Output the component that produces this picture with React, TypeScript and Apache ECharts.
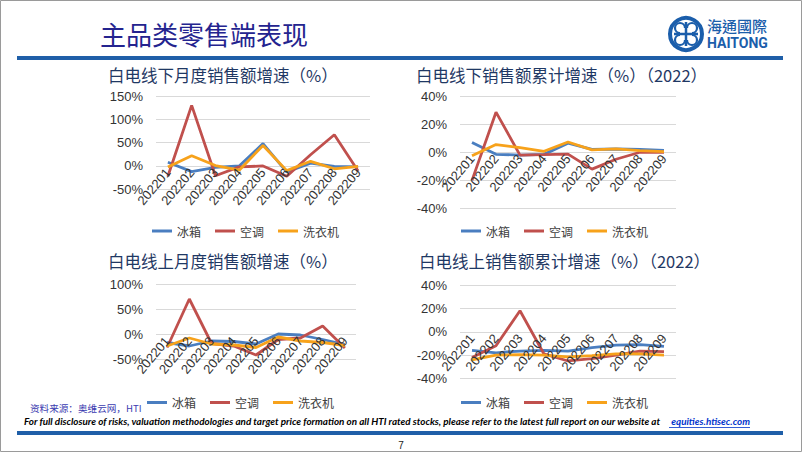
import React, { useEffect, useRef } from 'react';
import * as echarts from 'echarts';

const categories = ['202201', '202202', '202203', '202204', '202205', '202206', '202207', '202208', '202209'];
const seriesNames = ['冰箱', '空调', '洗衣机'];

// 白电线下月度销售额增速（%）
const offMonthFridge = [8, -12, -3, 0, 48, -13, 6, -1, -2];
const offMonthAC = [-22, 130, -21, -2, 0, -22, 24, 67, -11];
const offMonthWasher = [-2, 22, 1, -9, 44, -10, 10, -6, -1];

// 白电线下销售额累计增速（%）（2022）
const offCumFridge = [7, -1.5, -2, -1.5, 6.5, 2, 2.3, 2, 1.4];
const offCumAC = [-20, 28.5, -2, -1.7, -1.3, -12, -5, 0, 0];
const offCumWasher = [-2.5, 5.5, 3.3, 0.7, 7.3, 1.7, 2.4, 1.2, 0.5];

// 白电线上月度销售额增速（%）
const onMonthFridge = [-16, -23, -13, -14, -19, 1, -1, -10, -20];
const onMonthAC = [-26, 71, -18, -23, -41, -10, -7, 17, -27];
const onMonthWasher = [-23, -7, -19, -21, -26, -5, -13, -16, -22];

// 白电线上销售额累计增速（%）（2022）
const onCumFridge = [-16, -18, -16.5, -16, -16.5, -13.5, -11.5, -11, -12.5];
const onCumAC = [-22, -12, 18, -19, -25, -23, -20, -16.5, -17];
const onCumWasher = [-24, -20, -19.5, -20, -21.5, -20.5, -19, -19, -20];

const chartTitles = [
  '白电线下月度销售额增速（%）',
  '白电线下销售额累计增速（%）（2022）',
  '白电线上月度销售额增速（%）',
  '白电线上销售额累计增速（%）（2022）',
];
const yMin = [-50, -40, -50, -40];
const yMax = [150, 40, 100, 40];
const yStep = [50, 20, 50, 20];

const colors = ['#4A7EC0', '#C0504D', '#F7A21B'];

export default function App() {
  const ref = useRef<HTMLDivElement>(null);
  useEffect(() => {
    document.body.style.margin = '0';
    const chart = echarts.init(ref.current!, null, { renderer: 'svg' });

    const data = [
      [offMonthFridge, offMonthAC, offMonthWasher],
      [offCumFridge, offCumAC, offCumWasher],
      [onMonthFridge, onMonthAC, onMonthWasher],
      [onCumFridge, onCumAC, onCumWasher],
    ];
    const grids = [
      { left: 156, top: 96, width: 214, height: 93.3 },
      { left: 460, top: 96, width: 216, height: 112.5 },
      { left: 156, top: 284.5, width: 200, height: 75 },
      { left: 460, top: 285, width: 216, height: 93.5 },
    ];
    const titlePos = [
      [108, 75],
      [416, 75],
      [108, 260.5],
      [419, 260.5],
    ];
    const legendPos = [
      [147, 220],
      [456, 220],
      [142, 391.5],
      [456, 391.5],
    ];

    const axisFont = { fontFamily: 'Liberation Sans, Arial, sans-serif', fontSize: 13, color: '#333333' };

    const series: any[] = [];
    data.forEach((group, gi) => {
      group.forEach((vals, si) => {
        series.push({
          type: 'line',
          name: seriesNames[si],
          xAxisIndex: gi,
          yAxisIndex: gi,
          data: vals,
          symbol: 'none',
          smooth: false,
          lineStyle: { width: 2.8, color: colors[si] },
          itemStyle: { color: colors[si] },
          z: 2 + si,
        });
      });
    });

    const txt = (x: number, y: number, text: string, fill: string, font: string, align = 'left') => ({
      type: 'text', x, y,
      style: { text, fill, font, textAlign: align, textVerticalAlign: 'middle', align, verticalAlign: 'middle' },
    });

    const graphic: any[] = [
      { type: 'rect', shape: { x: 0.5, y: 0.5, width: 801, height: 451 }, style: { fill: 'none', stroke: '#9a9a9a', lineWidth: 1 } },
      txt(100, 33, '主品类零售端表现', '#24248f', '26px "Noto Sans CJK SC"'),
      { type: 'rect', shape: { x: 17, y: 56, width: 766, height: 4 }, style: { fill: '#1F5FA8' } },
      { type: 'rect', shape: { x: 17, y: 431, width: 766, height: 4 }, style: { fill: '#1F5FA8' } },
      // logo
      { type: 'circle', shape: { cx: 686, cy: 34, r: 16 }, style: { fill: '#fff', stroke: '#1B5EAB', lineWidth: 4 } },
      { type: 'line', shape: { x1: 686, y1: 22, x2: 686, y2: 46 }, style: { stroke: '#1B5EAB', lineWidth: 2.5 } },
      { type: 'line', shape: { x1: 674, y1: 34, x2: 698, y2: 34 }, style: { stroke: '#1B5EAB', lineWidth: 2.5 } },
      { type: 'arc', shape: { cx: 680, cy: 28, r: 5, startAngle: Math.PI * 0.5, endAngle: Math.PI * 2 }, style: { stroke: '#1B5EAB', lineWidth: 2.2, fill: 'none' } },
      { type: 'arc', shape: { cx: 692, cy: 40, r: 5, startAngle: Math.PI * 1.5, endAngle: Math.PI * 3 }, style: { stroke: '#1B5EAB', lineWidth: 2.2, fill: 'none' } },
      { type: 'arc', shape: { cx: 692, cy: 28, r: 5, startAngle: Math.PI, endAngle: Math.PI * 2.5 }, style: { stroke: '#1B5EAB', lineWidth: 2.2, fill: 'none' } },
      { type: 'arc', shape: { cx: 680, cy: 40, r: 5, startAngle: 0, endAngle: Math.PI * 1.5 }, style: { stroke: '#1B5EAB', lineWidth: 2.2, fill: 'none' } },
      txt(707, 25, '海通國際', '#1B5EAB', '500 15px "Noto Sans CJK TC"'),
      txt(707, 43, 'HAITONG', '#1B5EAB', 'bold 14px "Liberation Sans Narrow", "Roboto", sans-serif'),
      txt(30, 408, '资料来源：奥维云网，HTI', '#3B3BB0', '9.6px "Noto Sans CJK SC"'),
      txt(24, 421,
        'For full disclosure of risks, valuation methodologies and target price formation on all HTI rated stocks, please refer to the latest full report on our website at',
        '#000', 'italic bold 9.85px "Lato", sans-serif'),
      txt(750, 421, 'equities.htisec.com', '#0033CC', 'italic bold 9.85px "Lato", sans-serif', 'right'),
      { type: 'line', shape: { x1: 669, y1: 427.5, x2: 750, y2: 427.5 }, style: { stroke: '#0033CC', lineWidth: 0.8 } },
      txt(401, 445, '7', '#222', '10px "Liberation Sans"', 'center'),
    ];
    chartTitles.forEach((t, i) => {
      graphic.push(txt(titlePos[i][0], titlePos[i][1], t, '#1F3864', '16.5px "Noto Sans CJK SC"'));
    });

    const option: any = {
      animation: false,
      backgroundColor: '#ffffff',
      grid: grids.map((g) => ({ ...g, containLabel: false })),
      xAxis: grids.map((g, i) => ({
        type: 'category',
        gridIndex: i,
        data: categories,
        boundaryGap: true,
        position: 'bottom',
        z: 10,
        // place the category axis where the value axis crosses zero
        offset: -(g.height * (0 - yMin[i])) / (yMax[i] - yMin[i]),
        axisLine: { show: false, onZero: false },
        axisTick: { show: false },
        axisLabel: { ...axisFont, rotate: 50, interval: 0, margin: 4 },
        splitLine: { show: false },
      })),
      yAxis: grids.map((_, i) => ({
        type: 'value',
        gridIndex: i,
        min: yMin[i],
        max: yMax[i],
        interval: yStep[i],
        axisLine: { show: false },
        axisTick: { show: false },
        axisLabel: { ...axisFont, margin: 13, formatter: '{value}%' },
        splitLine: { show: true, lineStyle: { color: '#D9D9D9', width: 1 } },
      })),
      legend: legendPos.map((p) => ({
        left: p[0],
        top: p[1],
        data: seriesNames,
        icon: 'rect',
        itemWidth: 20,
        itemHeight: 3,
        itemGap: 14,
        textStyle: { fontFamily: 'Noto Sans CJK SC', fontSize: 12, color: '#404040' },
      })),
      series,
      graphic: { elements: graphic },
    };
    chart.setOption(option);
    return () => chart.dispose();
  }, []);
  return <div ref={ref} style={{ width: 802, height: 452, position: 'absolute', left: 0, top: 0 }} />;
}
